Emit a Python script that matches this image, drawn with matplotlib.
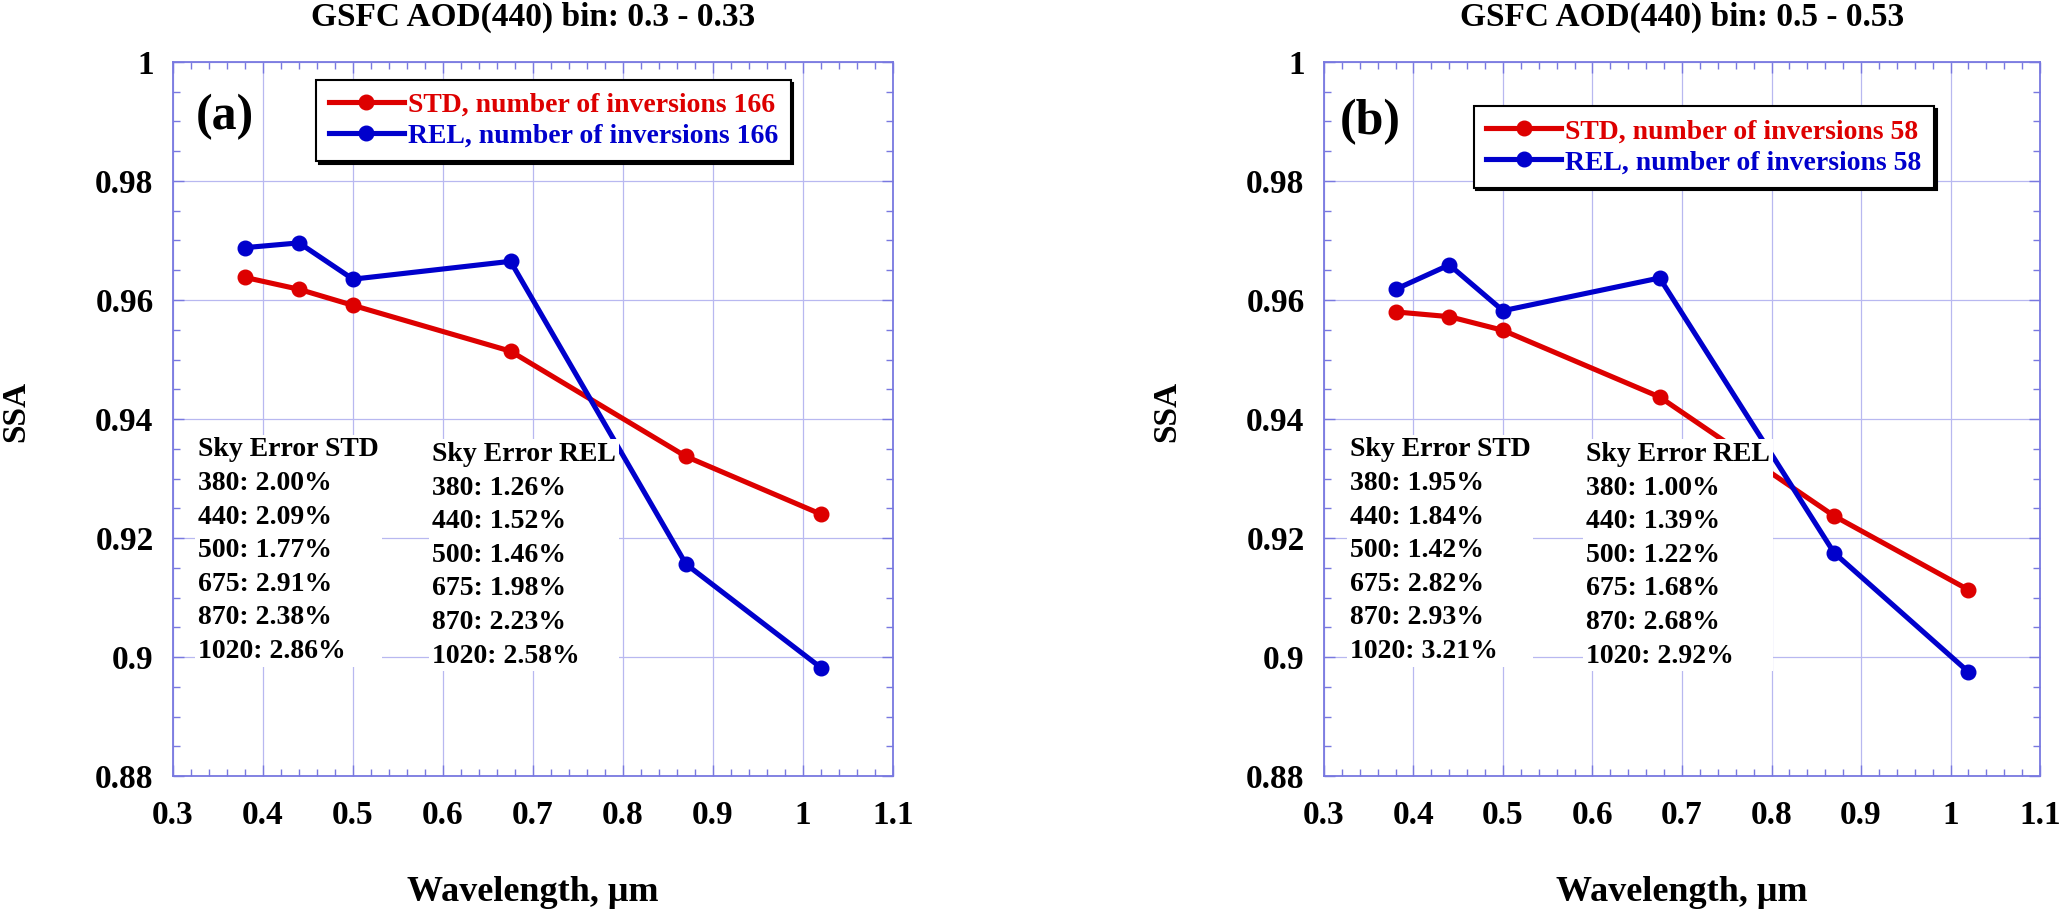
import matplotlib
matplotlib.use("Agg")
import matplotlib.pyplot as plt
from matplotlib.ticker import MultipleLocator, FuncFormatter

# wavelengths (um) of the AERONET channels
wavelength = [0.38, 0.44, 0.50, 0.675, 0.87, 1.02]

# SSA
ssa_std_a = [0.9638, 0.9618, 0.9591, 0.9514, 0.9337, 0.9240]
ssa_rel_a = [0.9688, 0.9696, 0.9635, 0.9665, 0.9156, 0.8982]
ssa_std_b = [0.9580, 0.9572, 0.9549, 0.9437, 0.9237, 0.9113]
ssa_rel_b = [0.9618, 0.9659, 0.9582, 0.9637, 0.9175, 0.8975]

n_inv = [166, 58]
titles = ["GSFC AOD(440) bin: 0.3 - 0.33", "GSFC AOD(440) bin: 0.5 - 0.53"]
tags = ["(a)", "(b)"]

sky_wl = ["380", "440", "500", "675", "870", "1020"]
sky_std_a = ["2.00", "2.09", "1.77", "2.91", "2.38", "2.86"]
sky_rel_a = ["1.26", "1.52", "1.46", "1.98", "2.23", "2.58"]
sky_std_b = ["1.95", "1.84", "1.42", "2.82", "2.93", "3.21"]
sky_rel_b = ["1.00", "1.39", "1.22", "1.68", "2.68", "2.92"]

RED = "#dd0000"
BLUE = "#0000cc"
SPINE = "#7878e0"
GRID = "#b8b8f0"

plt.rcParams["font.family"] = ["Liberation Serif", "DejaVu Serif"]
plt.rcParams["font.weight"] = "bold"
plt.rcParams["axes.labelweight"] = "bold"

fig = plt.figure(figsize=(20.67, 9.10), dpi=100)
ax_a = fig.add_axes([0.0837, 0.14725, 0.34833, 0.78462])
ax_b = fig.add_axes([0.64054, 0.14725, 0.34640, 0.78462])


def sky_block(head, vals):
    lines = [head] + [f"{w}: {v}%" for w, v in zip(sky_wl, vals)]
    return "\n".join(lines)


def draw_panel(ax, std, rel, n, title, tag, sky_std, sky_rel,
               leg_xy, tag_xy, std_xy, rel_xy):
    ax.plot(wavelength, std, color=RED, lw=3.7, marker="o", ms=10.5,
            label=f"STD, number of inversions {n}", zorder=3)
    ax.plot(wavelength, rel, color=BLUE, lw=3.7, marker="o", ms=10.5,
            label=f"REL, number of inversions {n}", zorder=4)

    ax.set_xlim(0.3, 1.1)
    ax.set_ylim(0.88, 1.0)
    ax.xaxis.set_major_locator(MultipleLocator(0.1))
    ax.xaxis.set_minor_locator(MultipleLocator(0.02))
    ax.yaxis.set_major_locator(MultipleLocator(0.02))
    ax.yaxis.set_minor_locator(MultipleLocator(0.005))
    fmt = FuncFormatter(lambda v, p: f"{v:g}")
    ax.xaxis.set_major_formatter(fmt)
    ax.yaxis.set_major_formatter(fmt)

    ax.set_axisbelow(True)
    ax.grid(True, which="major", color=GRID, lw=0.9)
    for sp in ax.spines.values():
        sp.set_color(SPINE)
        sp.set_linewidth(1.3)
    ax.tick_params(which="both", direction="in", top=True, right=True,
                   color=SPINE, width=1.0)
    ax.tick_params(which="major", length=8)
    ax.tick_params(which="minor", length=5)
    ax.tick_params(axis="x", which="major", labelsize=24, pad=17)
    ax.tick_params(axis="y", which="major", labelsize=24, pad=14)

    ax.set_xlabel("Wavelength, μm", fontsize=26)
    ax.xaxis.set_label_coords(0.5, -0.163)
    ax.xaxis.label.set_va("center")
    ax.set_ylabel("SSA", fontsize=24)
    ax.yaxis.set_label_coords(-0.219, 0.51)
    ax.yaxis.label.set_va("center")

    ax.text(0.5, 1.063, title, transform=ax.transAxes, ha="center",
            va="center", fontsize=24, fontweight="bold")
    ax.text(tag_xy[0], tag_xy[1], tag, ha="center", va="center",
            fontsize=36, fontweight="bold", zorder=6)

    box = dict(facecolor="white", edgecolor="none", pad=2)
    ax.text(std_xy[0], std_xy[1], sky_block("Sky Error STD", sky_std),
            ha="left", va="top", fontsize=20, linespacing=1.45,
            bbox=box, zorder=5)
    ax.text(rel_xy[0], rel_xy[1], sky_block("Sky Error REL", sky_rel),
            ha="left", va="top", fontsize=20, linespacing=1.45,
            bbox=box, zorder=5)

    leg = ax.legend(loc="upper left", bbox_to_anchor=leg_xy,
                    borderaxespad=0, fontsize=20, fancybox=False,
                    framealpha=1, edgecolor="black", handlelength=2.7,
                    handletextpad=0.15, borderpad=0.45, labelspacing=0.2,
                    shadow={"color": "black", "alpha": 1})
    leg.get_frame().set_linewidth(1.5)
    leg.set_zorder(10)
    for txt, line in zip(leg.get_texts(), leg.get_lines()):
        txt.set_color(line.get_color())


draw_panel(ax_a, ssa_std_a, ssa_rel_a, n_inv[0], titles[0], tags[0],
           sky_std_a, sky_rel_a, (0.199, 0.975), (0.358, 0.9908),
           (0.328, 0.9369), (0.588, 0.9361))
draw_panel(ax_b, ssa_std_b, ssa_rel_b, n_inv[1], titles[1], tags[1],
           sky_std_b, sky_rel_b, (0.209, 0.938), (0.3514, 0.9899),
           (0.329, 0.9369), (0.593, 0.9361))

fig.savefig("out.png", dpi=100)
